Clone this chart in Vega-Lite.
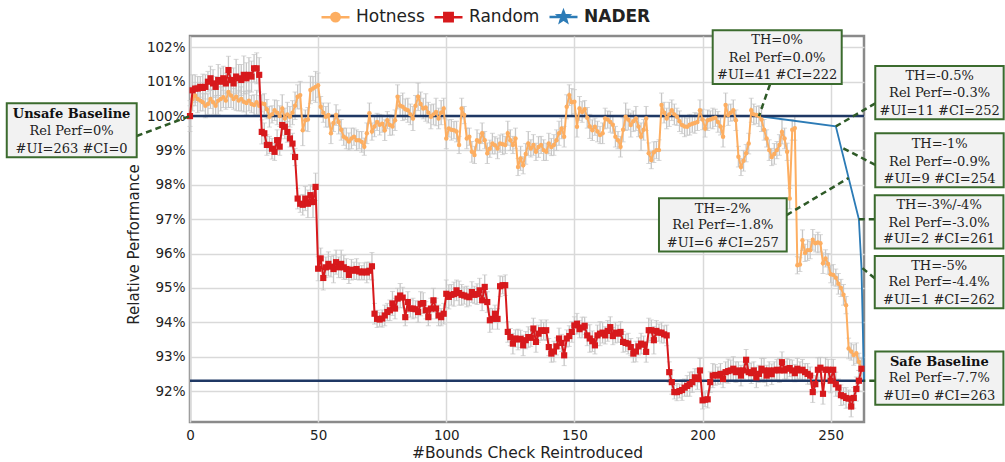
{
"$schema":"https://vega.github.io/schema/vega-lite/v6.json",
"width":674,"height":386,
"autosize":{"type":"none"},
"padding":{"left":190,"top":36,"right":141,"bottom":40},
"background":"white",
"config":{
 "view":{"stroke":"#8a8a8a","strokeWidth":2.5},
 "axis":{"labelFont":"DejaVu Sans","titleFont":"DejaVu Sans","labelFontSize":13.5,"labelColor":"#222","titleColor":"#222","titleFontWeight":"normal","domain":false,"ticks":false,"gridColor":"#d9d9d9","gridWidth":1.5}
},
"datasets":{
"series":[
{"x":0,"h":100,"a":0.45,"r":100,"b":0.3},
{"x":1,"h":100.5,"a":0.35,"r":100.75,"b":0.45},
{"x":2,"h":100.6,"a":0.3,"r":100.8,"b":0.4},
{"x":3,"h":100.5,"a":0.4,"r":100.8,"b":0.35},
{"x":4,"h":100.45,"a":0.3,"r":100.85,"b":0.3},
{"x":5,"h":100.4,"a":0.25,"r":100.82,"b":0.4},
{"x":6,"h":100.3,"a":0.35,"r":100.85,"b":0.35},
{"x":7,"h":100.35,"a":0.3,"r":101,"b":0.3},
{"x":8,"h":100.5,"a":0.28,"r":101.1,"b":0.35},
{"x":9,"h":100.4,"a":0.35,"r":100.95,"b":0.4},
{"x":10,"h":100.3,"a":0.3,"r":100.85,"b":0.3},
{"x":11,"h":100.45,"a":0.4,"r":101.05,"b":0.45},
{"x":12,"h":100.5,"a":0.35,"r":101,"b":0.4},
{"x":13,"h":100.55,"a":0.3,"r":101.1,"b":0.35},
{"x":14,"h":100.45,"a":0.25,"r":100.95,"b":0.3},
{"x":15,"h":100.7,"a":0.45,"r":101.34,"b":0.4},
{"x":16,"h":100.6,"a":0.35,"r":101.05,"b":0.35},
{"x":17,"h":100.5,"a":0.3,"r":100.95,"b":0.45},
{"x":18,"h":100.56,"a":0.4,"r":101.15,"b":0.5},
{"x":19,"h":100.45,"a":0.3,"r":101.1,"b":0.4},
{"x":20,"h":100.5,"a":0.35,"r":101.05,"b":0.45},
{"x":21,"h":100.42,"a":0.3,"r":101.2,"b":0.55},
{"x":22,"h":100.38,"a":0.35,"r":101.1,"b":0.45},
{"x":23,"h":100.45,"a":0.3,"r":101.2,"b":0.5},
{"x":24,"h":100.35,"a":0.25,"r":101.15,"b":0.45},
{"x":25,"h":100.32,"a":0.3,"r":101.39,"b":0.4},
{"x":26,"h":100.4,"a":0.35,"r":101.39,"b":0.45},
{"x":27,"h":100.3,"a":0.3,"r":101.2,"b":0.5},
{"x":28,"h":100.37,"a":0.25,"r":99.54,"b":0.35},
{"x":29,"h":100.35,"a":0.3,"r":99.5,"b":0.3},
{"x":30,"h":100.2,"a":0.28,"r":99.16,"b":0.3},
{"x":31,"h":99.98,"a":0.3,"r":99.16,"b":0.25},
{"x":32,"h":100.05,"a":0.25,"r":99.05,"b":0.3},
{"x":33,"h":100.17,"a":0.3,"r":98.96,"b":0.25},
{"x":34,"h":100.1,"a":0.35,"r":99.3,"b":0.3},
{"x":35,"h":100,"a":0.3,"r":99.11,"b":0.25},
{"x":36,"h":100.22,"a":0.4,"r":99.74,"b":0.3},
{"x":37,"h":99.93,"a":0.3,"r":99.69,"b":0.35},
{"x":38,"h":100.05,"a":0.35,"r":99.54,"b":0.3},
{"x":39,"h":99.98,"a":0.3,"r":99.35,"b":0.25},
{"x":40,"h":100.1,"a":0.35,"r":99.2,"b":0.3},
{"x":41,"h":100.3,"a":0.4,"r":98.81,"b":0.25},
{"x":42,"h":100.56,"a":0.35,"r":97.6,"b":0.3},
{"x":43,"h":100.61,"a":0.4,"r":97.45,"b":0.25},
{"x":44,"h":99.59,"a":0.45,"r":97.42,"b":0.3},
{"x":45,"h":99.88,"a":0.3,"r":97.6,"b":0.35},
{"x":46,"h":99.9,"a":0.35,"r":97.45,"b":0.4},
{"x":47,"h":100.76,"a":0.4,"r":97.7,"b":0.3},
{"x":48,"h":100.8,"a":0.35,"r":97.5,"b":0.45},
{"x":49,"h":100.85,"a":0.45,"r":97.94,"b":0.4},
{"x":50,"h":100.9,"a":0.35,"r":95.56,"b":0.35},
{"x":51,"h":100.27,"a":0.3,"r":95.86,"b":0.3},
{"x":52,"h":100.1,"a":0.28,"r":95.29,"b":0.35},
{"x":53,"h":99.98,"a":0.3,"r":95.6,"b":0.3},
{"x":54,"h":100.03,"a":0.35,"r":95.7,"b":0.35},
{"x":55,"h":99.5,"a":0.3,"r":95.62,"b":0.3},
{"x":56,"h":99.8,"a":0.25,"r":95.55,"b":0.4},
{"x":57,"h":100.03,"a":0.3,"r":95.75,"b":0.35},
{"x":58,"h":99.83,"a":0.35,"r":95.6,"b":0.3},
{"x":59,"h":99.6,"a":0.3,"r":95.7,"b":0.4},
{"x":60,"h":99.4,"a":0.25,"r":95.6,"b":0.35},
{"x":61,"h":99.35,"a":0.3,"r":95.55,"b":0.3},
{"x":62,"h":99.26,"a":0.25,"r":95.38,"b":0.25},
{"x":63,"h":99.35,"a":0.3,"r":95.53,"b":0.3},
{"x":64,"h":99.4,"a":0.25,"r":95.5,"b":0.25},
{"x":65,"h":99.3,"a":0.3,"r":95.55,"b":0.3},
{"x":66,"h":99.3,"a":0.25,"r":95.48,"b":0.25},
{"x":67,"h":99.25,"a":0.3,"r":95.45,"b":0.2},
{"x":68,"h":99.11,"a":0.25,"r":95.48,"b":0.25},
{"x":69,"h":99.5,"a":0.3,"r":95.45,"b":0.3},
{"x":70,"h":100.08,"a":0.3,"r":95.5,"b":0.25},
{"x":71,"h":99.55,"a":0.25,"r":95.63,"b":0.4},
{"x":72,"h":99.7,"a":0.3,"r":94.25,"b":0.3},
{"x":73,"h":99.83,"a":0.25,"r":94.1,"b":0.25},
{"x":74,"h":99.75,"a":0.3,"r":94.08,"b":0.2},
{"x":75,"h":99.78,"a":0.25,"r":94.11,"b":0.25},
{"x":76,"h":99.59,"a":0.3,"r":94.2,"b":0.3},
{"x":77,"h":99.88,"a":0.25,"r":94.3,"b":0.25},
{"x":78,"h":99.74,"a":0.3,"r":94.35,"b":0.3},
{"x":79,"h":99.7,"a":0.25,"r":94.55,"b":0.35},
{"x":80,"h":99.88,"a":0.3,"r":94.4,"b":0.3},
{"x":81,"h":100.56,"a":0.35,"r":94.69,"b":0.3},
{"x":82,"h":100.3,"a":0.3,"r":94.78,"b":0.35},
{"x":83,"h":100.27,"a":0.4,"r":94.72,"b":0.3},
{"x":84,"h":100.2,"a":0.3,"r":94.15,"b":0.25},
{"x":85,"h":100.17,"a":0.35,"r":94.59,"b":0.3},
{"x":86,"h":100.05,"a":0.3,"r":94.4,"b":0.25},
{"x":87,"h":99.93,"a":0.35,"r":94.4,"b":0.3},
{"x":88,"h":100.3,"a":0.3,"r":94.38,"b":0.25},
{"x":89,"h":100.56,"a":0.4,"r":94.3,"b":0.3},
{"x":90,"h":100.35,"a":0.35,"r":94.54,"b":0.35},
{"x":91,"h":100.22,"a":0.3,"r":94.56,"b":0.3},
{"x":92,"h":100.25,"a":0.4,"r":94.35,"b":0.25},
{"x":93,"h":100.1,"a":0.3,"r":94.15,"b":0.25},
{"x":94,"h":99.98,"a":0.35,"r":94.4,"b":0.3},
{"x":95,"h":100.05,"a":0.3,"r":94.64,"b":0.35},
{"x":96,"h":100.12,"a":0.4,"r":94.4,"b":0.3},
{"x":97,"h":99.93,"a":0.3,"r":94.2,"b":0.3},
{"x":98,"h":100.1,"a":0.35,"r":94.15,"b":0.25},
{"x":99,"h":100.22,"a":0.3,"r":94.25,"b":0.3},
{"x":100,"h":99.35,"a":0.3,"r":94.83,"b":0.4},
{"x":101,"h":99.64,"a":0.25,"r":94.74,"b":0.35},
{"x":102,"h":99.6,"a":0.3,"r":94.8,"b":0.3},
{"x":103,"h":99.59,"a":0.25,"r":94.82,"b":0.35},
{"x":104,"h":99.55,"a":0.3,"r":94.93,"b":0.3},
{"x":105,"h":99.16,"a":0.25,"r":94.85,"b":0.35},
{"x":106,"h":100.22,"a":0.3,"r":94.8,"b":0.3},
{"x":107,"h":100.03,"a":0.25,"r":94.78,"b":0.25},
{"x":108,"h":99.35,"a":0.3,"r":94.75,"b":0.3},
{"x":109,"h":99.4,"a":0.25,"r":94.73,"b":0.25},
{"x":110,"h":98.96,"a":0.3,"r":94.88,"b":0.3},
{"x":111,"h":98.87,"a":0.25,"r":94.8,"b":0.25},
{"x":112,"h":99.3,"a":0.3,"r":94.82,"b":0.3},
{"x":113,"h":99.25,"a":0.25,"r":94.93,"b":0.35},
{"x":114,"h":99.5,"a":0.3,"r":94.64,"b":0.3},
{"x":115,"h":99.3,"a":0.25,"r":95.03,"b":0.35},
{"x":116,"h":98.92,"a":0.3,"r":94.59,"b":0.3},
{"x":117,"h":99.05,"a":0.25,"r":94.06,"b":0.35},
{"x":118,"h":99.2,"a":0.3,"r":94.1,"b":0.3},
{"x":119,"h":99.15,"a":0.25,"r":94.25,"b":0.25},
{"x":120,"h":99.06,"a":0.3,"r":94.1,"b":0.3},
{"x":121,"h":99.2,"a":0.25,"r":95.05,"b":0.3},
{"x":122,"h":99.18,"a":0.3,"r":95.08,"b":0.25},
{"x":123,"h":99.16,"a":0.25,"r":95.08,"b":0.3},
{"x":124,"h":99.5,"a":0.35,"r":93.72,"b":0.3},
{"x":125,"h":99.3,"a":0.3,"r":93.57,"b":0.25},
{"x":126,"h":99.16,"a":0.25,"r":93.38,"b":0.3},
{"x":127,"h":99.35,"a":0.3,"r":93.53,"b":0.25},
{"x":128,"h":98.52,"a":0.25,"r":93.5,"b":0.3},
{"x":129,"h":98.77,"a":0.35,"r":93.52,"b":0.25},
{"x":130,"h":98.57,"a":0.25,"r":93.33,"b":0.3},
{"x":131,"h":98.9,"a":0.3,"r":93.48,"b":0.25},
{"x":132,"h":99.2,"a":0.35,"r":93.57,"b":0.3},
{"x":133,"h":99.06,"a":0.25,"r":93.55,"b":0.25},
{"x":134,"h":99.16,"a":0.3,"r":93.82,"b":0.3},
{"x":135,"h":98.96,"a":0.25,"r":93.43,"b":0.3},
{"x":136,"h":99.1,"a":0.3,"r":93.67,"b":0.25},
{"x":137,"h":99.16,"a":0.25,"r":93.77,"b":0.3},
{"x":138,"h":99.01,"a":0.3,"r":93.75,"b":0.25},
{"x":139,"h":98.96,"a":0.25,"r":93.77,"b":0.3},
{"x":140,"h":99.2,"a":0.3,"r":93.28,"b":0.25},
{"x":141,"h":99.1,"a":0.25,"r":93.09,"b":0.25},
{"x":142,"h":99.16,"a":0.3,"r":93.15,"b":0.3},
{"x":143,"h":99.3,"a":0.3,"r":93.3,"b":0.25},
{"x":144,"h":99.5,"a":0.35,"r":93.53,"b":0.3},
{"x":145,"h":99.64,"a":0.3,"r":93.4,"b":0.25},
{"x":146,"h":99.4,"a":0.3,"r":93.04,"b":0.3},
{"x":147,"h":100.27,"a":0.35,"r":93.53,"b":0.25},
{"x":148,"h":100.61,"a":0.3,"r":93.6,"b":0.3},
{"x":149,"h":100.4,"a":0.4,"r":93.72,"b":0.3},
{"x":150,"h":100.42,"a":0.35,"r":93.91,"b":0.25},
{"x":151,"h":99.69,"a":0.3,"r":93.96,"b":0.3},
{"x":152,"h":100.22,"a":0.35,"r":93.8,"b":0.25},
{"x":153,"h":100.12,"a":0.3,"r":93.85,"b":0.3},
{"x":154,"h":100.2,"a":0.25,"r":93.9,"b":0.25},
{"x":155,"h":99.95,"a":0.3,"r":93.62,"b":0.3},
{"x":156,"h":99.7,"a":0.35,"r":93.53,"b":0.4},
{"x":157,"h":99.59,"a":0.3,"r":93.45,"b":0.3},
{"x":158,"h":99.69,"a":0.25,"r":93.33,"b":0.25},
{"x":159,"h":99.55,"a":0.3,"r":93.62,"b":0.3},
{"x":160,"h":99.45,"a":0.25,"r":93.67,"b":0.35},
{"x":161,"h":99.5,"a":0.3,"r":93.7,"b":0.3},
{"x":162,"h":99.93,"a":0.3,"r":93.62,"b":0.25},
{"x":163,"h":99.9,"a":0.25,"r":93.75,"b":0.3},
{"x":164,"h":99.83,"a":0.3,"r":93.86,"b":0.3},
{"x":165,"h":99.75,"a":0.25,"r":93.6,"b":0.25},
{"x":166,"h":99.4,"a":0.3,"r":93.7,"b":0.3},
{"x":167,"h":99.3,"a":0.25,"r":93.67,"b":0.25},
{"x":168,"h":99.11,"a":0.3,"r":93.72,"b":0.3},
{"x":169,"h":99.6,"a":0.35,"r":93.43,"b":0.3},
{"x":170,"h":99.98,"a":0.4,"r":93.4,"b":0.25},
{"x":171,"h":99.9,"a":0.3,"r":93.38,"b":0.3},
{"x":172,"h":99.74,"a":0.35,"r":93.28,"b":0.25},
{"x":173,"h":99.85,"a":0.3,"r":93.09,"b":0.25},
{"x":174,"h":99.93,"a":0.35,"r":93.15,"b":0.3},
{"x":175,"h":99.7,"a":0.3,"r":93.3,"b":0.25},
{"x":176,"h":99.4,"a":0.4,"r":93.38,"b":0.3},
{"x":177,"h":99.6,"a":0.3,"r":93.35,"b":0.25},
{"x":178,"h":99.93,"a":0.35,"r":93.14,"b":0.3},
{"x":179,"h":98.92,"a":0.3,"r":93.77,"b":0.35},
{"x":180,"h":98.72,"a":0.25,"r":93.77,"b":0.3},
{"x":181,"h":98.95,"a":0.3,"r":93.48,"b":0.4},
{"x":182,"h":99.01,"a":0.25,"r":93.75,"b":0.3},
{"x":183,"h":99.01,"a":0.3,"r":93.7,"b":0.25},
{"x":184,"h":100.32,"a":0.35,"r":93.7,"b":0.3},
{"x":185,"h":100.1,"a":0.3,"r":93.65,"b":0.25},
{"x":186,"h":99.93,"a":0.3,"r":93.62,"b":0.3},
{"x":187,"h":100.05,"a":0.35,"r":92.55,"b":0.3},
{"x":188,"h":100.17,"a":0.3,"r":92.26,"b":0.35},
{"x":189,"h":100.05,"a":0.3,"r":91.97,"b":0.2},
{"x":190,"h":99.98,"a":0.25,"r":91.97,"b":0.25},
{"x":191,"h":99.85,"a":0.3,"r":92,"b":0.2},
{"x":192,"h":99.74,"a":0.25,"r":92.03,"b":0.3},
{"x":193,"h":99.7,"a":0.3,"r":92.1,"b":0.25},
{"x":194,"h":99.69,"a":0.25,"r":92.15,"b":0.3},
{"x":195,"h":99.75,"a":0.3,"r":92.2,"b":0.35},
{"x":196,"h":99.78,"a":0.25,"r":92.26,"b":0.3},
{"x":197,"h":99.8,"a":0.3,"r":92.4,"b":0.25},
{"x":198,"h":99.83,"a":0.25,"r":92.35,"b":0.3},
{"x":199,"h":100.17,"a":0.3,"r":92.6,"b":0.35},
{"x":200,"h":99.9,"a":0.3,"r":91.73,"b":0.25},
{"x":201,"h":99.64,"a":0.25,"r":91.75,"b":0.2},
{"x":202,"h":99.88,"a":0.3,"r":91.76,"b":0.25},
{"x":203,"h":99.9,"a":0.25,"r":92.26,"b":0.3},
{"x":204,"h":99.93,"a":0.3,"r":92.45,"b":0.35},
{"x":205,"h":99.95,"a":0.25,"r":92.47,"b":0.3},
{"x":206,"h":99.83,"a":0.3,"r":92.45,"b":0.25},
{"x":207,"h":99.7,"a":0.25,"r":92.5,"b":0.3},
{"x":208,"h":99.4,"a":0.3,"r":92.35,"b":0.25},
{"x":209,"h":100.32,"a":0.35,"r":92.55,"b":0.3},
{"x":210,"h":100.03,"a":0.3,"r":92.58,"b":0.35},
{"x":211,"h":100.1,"a":0.25,"r":92.6,"b":0.3},
{"x":212,"h":100.17,"a":0.3,"r":92.65,"b":0.35},
{"x":213,"h":99.88,"a":0.3,"r":92.55,"b":0.3},
{"x":214,"h":98.82,"a":0.3,"r":92.6,"b":0.25},
{"x":215,"h":98.52,"a":0.25,"r":92.45,"b":0.3},
{"x":216,"h":98.7,"a":0.3,"r":92.6,"b":0.25},
{"x":217,"h":98.92,"a":0.25,"r":92.91,"b":0.3},
{"x":218,"h":99.2,"a":0.3,"r":92.55,"b":0.25},
{"x":219,"h":100.17,"a":0.35,"r":92.52,"b":0.3},
{"x":220,"h":100.05,"a":0.3,"r":92.6,"b":0.25},
{"x":221,"h":100.03,"a":0.25,"r":92.4,"b":0.3},
{"x":222,"h":100,"a":0.3,"r":92.5,"b":0.25},
{"x":223,"h":99.9,"a":0.35,"r":92.65,"b":0.3},
{"x":224,"h":99.6,"a":0.3,"r":92.6,"b":0.35},
{"x":225,"h":99.35,"a":0.25,"r":92.45,"b":0.3},
{"x":226,"h":99.01,"a":0.3,"r":92.6,"b":0.25},
{"x":227,"h":98.81,"a":0.25,"r":92.49,"b":0.3},
{"x":228,"h":98.9,"a":0.3,"r":92.6,"b":0.25},
{"x":229,"h":99.01,"a":0.25,"r":92.62,"b":0.3},
{"x":230,"h":99.16,"a":0.3,"r":92.6,"b":0.35},
{"x":231,"h":99.54,"a":0.35,"r":92.84,"b":0.3},
{"x":232,"h":99.35,"a":0.3,"r":92.6,"b":0.25},
{"x":233,"h":98.96,"a":0.25,"r":92.65,"b":0.3},
{"x":234,"h":97.6,"a":0.3,"r":92.67,"b":0.25},
{"x":235,"h":99.6,"a":0.3,"r":92.6,"b":0.3},
{"x":236,"h":99.65,"a":0.35,"r":92.52,"b":0.25},
{"x":237,"h":95.66,"a":0.25,"r":92.65,"b":0.3},
{"x":238,"h":95.68,"a":0.2,"r":92.6,"b":0.25},
{"x":239,"h":96.39,"a":0.3,"r":92.62,"b":0.3},
{"x":240,"h":96.02,"a":0.25,"r":92.55,"b":0.25},
{"x":241,"h":96.1,"a":0.3,"r":92.5,"b":0.3},
{"x":242,"h":96.1,"a":0.25,"r":92.45,"b":0.25},
{"x":243,"h":96.4,"a":0.3,"r":91.97,"b":0.3},
{"x":244,"h":96.3,"a":0.25,"r":92.2,"b":0.25},
{"x":245,"h":96.32,"a":0.3,"r":92.62,"b":0.35},
{"x":246,"h":96.3,"a":0.25,"r":92.68,"b":0.3},
{"x":247,"h":95.72,"a":0.3,"r":91.92,"b":0.3},
{"x":248,"h":95.86,"a":0.25,"r":92.62,"b":0.35},
{"x":249,"h":95.7,"a":0.3,"r":92.62,"b":0.3},
{"x":250,"h":95.4,"a":0.25,"r":92.3,"b":0.35},
{"x":251,"h":95.38,"a":0.3,"r":92.62,"b":0.3},
{"x":252,"h":95.3,"a":0.25,"r":92.2,"b":0.35},
{"x":253,"h":95.12,"a":0.3,"r":92.1,"b":0.25},
{"x":254,"h":95,"a":0.25,"r":91.88,"b":0.3},
{"x":255,"h":94.8,"a":0.3,"r":91.85,"b":0.25},
{"x":256,"h":94.5,"a":0.25,"r":91.8,"b":0.3},
{"x":257,"h":93.24,"a":0.3,"r":91.78,"b":0.25},
{"x":258,"h":93.15,"a":0.25,"r":91.55,"b":0.3},
{"x":259,"h":93.05,"a":0.3,"r":91.8,"b":0.3},
{"x":260,"h":93.1,"a":0.3,"r":92.06,"b":0.35},
{"x":261,"h":92.85,"a":0.25,"r":92.3,"b":0.3},
{"x":262,"h":92.66,"a":0.3,"r":92.65,"b":0.3}
],
"nader":[
{"x":0,"y":100},{"x":222,"y":100},{"x":252,"y":99.7},{"x":254,"y":99.1},{"x":257,"y":98.2},{"x":261,"y":97.0},{"x":262,"y":95.6},{"x":263,"y":92.3}
],
"baselines":[{"v":100},{"v":92.3}],
"leaders":[
{"x":-20.8,"y":99.42,"x2":0,"y2":100},
{"x":226.3,"y":100.92,"x2":222,"y2":100},
{"x":267.4,"y":100.37,"x2":252,"y2":99.7},
{"x":267.4,"y":98.58,"x2":254,"y2":99.1},
{"x":232.8,"y":97.12,"x2":257,"y2":98.2},
{"x":267.2,"y":97.0,"x2":261,"y2":97.0},
{"x":267.2,"y":95.28,"x2":262,"y2":95.6},
{"x":267.4,"y":92.3,"x2":263,"y2":92.3}
],
"boxes":[
{"x":-71.5,"x2":-20.8,"y":100.37,"y2":98.8},
{"x":203.96,"x2":254.3,"y":102.5,"y2":100.93},
{"x":267.4,"x2":317.5,"y":101.46,"y2":99.91},
{"x":267.4,"x2":317.5,"y":99.5,"y2":97.93},
{"x":183.0,"x2":232.84,"y":97.61,"y2":96.06},
{"x":267.2,"x2":317.4,"y":97.7,"y2":96.15},
{"x":267.2,"x2":317.4,"y":95.93,"y2":94.41},
{"x":267.4,"x2":317.4,"y":93.15,"y2":91.6}
],
"boxtitles":[
{"x":-46.2,"y":100.06,"t":"Unsafe Baseline"},
{"x":292.4,"y":92.86,"t":"Safe Baseline"}
],
"boxtext":[
{"x":-46.2,"y":99.57,"t":"Rel Perf=0%"},
{"x":-46.2,"y":99.05,"t":"#UI=263 #CI=0"},
{"x":229.1,"y":102.2,"t":"TH=0%"},
{"x":229.1,"y":101.7,"t":"Rel Perf=0.0%"},
{"x":229.1,"y":101.2,"t":"#UI=41 #CI=222"},
{"x":292.5,"y":101.17,"t":"TH=-0.5%"},
{"x":292.5,"y":100.66,"t":"Rel Perf=-0.3%"},
{"x":292.5,"y":100.16,"t":"#UI=11 #CI=252"},
{"x":292.5,"y":99.19,"t":"TH=-1%"},
{"x":292.5,"y":98.67,"t":"Rel Perf=-0.9%"},
{"x":292.5,"y":98.17,"t":"#UI=9 #CI=254"},
{"x":207.9,"y":97.31,"t":"TH=-2%"},
{"x":207.9,"y":96.82,"t":"Rel Perf=-1.8%"},
{"x":207.9,"y":96.31,"t":"#UI=6 #CI=257"},
{"x":292.3,"y":97.4,"t":"TH=-3%/-4%"},
{"x":292.3,"y":96.9,"t":"Rel Perf=-3.0%"},
{"x":292.3,"y":96.41,"t":"#UI=2 #CI=261"},
{"x":292.3,"y":95.64,"t":"TH=-5%"},
{"x":292.3,"y":95.17,"t":"Rel Perf=-4.4%"},
{"x":292.3,"y":94.66,"t":"#UI=1 #CI=262"},
{"x":292.4,"y":92.37,"t":"Rel Perf=-7.7%"},
{"x":292.4,"y":91.86,"t":"#UI=0 #CI=263"}
]
},
"layer":[
{"data":{"name":"series"},
 "mark":{"type":"errorbar","ticks":{"size":5,"color":"#c6c6c6","strokeWidth":1.2},"rule":{"color":"#c6c6c6","strokeWidth":1.3}},
 "encoding":{
  "x":{"field":"x","type":"quantitative","scale":{"domain":[0,263],"nice":false,"zero":false},"title":"#Bounds Check Reintroduced",
       "axis":{"values":[0,50,100,150,200,250],"titleFontSize":15.5,"labelFlush":false,"labelPadding":6,"titlePadding":4,"grid":true}},
  "y":{"field":"h","type":"quantitative","scale":{"domain":[91.1,102.33],"nice":false,"zero":false},"title":"Relative Performance",
       "axis":{"values":[92,93,94,95,96,97,98,99,100,101,102],"tickCount":12,"labelOverlap":false,"labelExpr":"datum.value + '%'","titleFontSize":15,"labelPadding":5,"titlePadding":5,"titleY":208,"grid":true}},
  "yError":{"field":"a"}}},
{"data":{"name":"series"},
 "mark":{"type":"errorbar","ticks":{"size":5,"color":"#c6c6c6","strokeWidth":1.2},"rule":{"color":"#c6c6c6","strokeWidth":1.3}},
 "encoding":{
  "x":{"field":"x","type":"quantitative","title":"#Bounds Check Reintroduced"},
  "y":{"field":"r","type":"quantitative","title":"Relative Performance"},
  "yError":{"field":"b"}}},
{"data":{"name":"nader"},
 "mark":{"type":"line","strokeWidth":1.8},
 "encoding":{
  "x":{"field":"x","type":"quantitative","title":"#Bounds Check Reintroduced"},
  "y":{"field":"y","type":"quantitative","title":"Relative Performance"},
  "color":{"datum":"NADER","type":"nominal",
    "scale":{"domain":["Hotness","Random","NADER"],"range":["#fdae61","#d7191c","#2c7bb6"]},
    "legend":{"orient":"none","legendX":130,"legendY":-35,"direction":"horizontal","title":null,"padding":0,
      "labelFont":"DejaVu Sans","labelFontSize":17,"labelColor":"#222","symbolSize":784,"symbolStrokeWidth":2.5,"columnPadding":4,"labelOffset":5,
      "encode":{
        "symbols":{"update":{
          "shape":{"signal":"datum.value === 'Hotness' ? 'M-1,0H1M0.3,0A0.3,0.3,0,1,1,-0.3,0A0.3,0.3,0,1,1,0.3,0Z' : datum.value === 'Random' ? 'M-1,0H1M-0.3,-0.3H0.3V0.3H-0.3Z' : 'M-1,0H1M0,-0.4L0.1,-0.136L0.38,-0.124L0.16,0.052L0.235,0.324L0,0.17L-0.235,0.324L-0.16,0.052L-0.38,-0.124L-0.1,-0.136Z'"},
          "fill":{"scale":"color","field":"value"},
          "stroke":{"scale":"color","field":"value"},
          "strokeWidth":{"value":2.5},
          "opacity":{"value":1}}},
        "labels":{"update":{"fontWeight":{"signal":"datum.value === 'NADER' ? 'bold' : 'normal'"}}}}}}}},
{"data":{"name":"baselines"},
 "mark":{"type":"rule","color":"#1f3864","strokeWidth":2.5},
 "encoding":{"y":{"field":"v","type":"quantitative","title":"Relative Performance"}}},
{"data":{"name":"series"},
 "mark":{"type":"line","strokeWidth":2,"point":{"filled":true,"size":20,"opacity":1}},
 "encoding":{
  "x":{"field":"x","type":"quantitative","title":"#Bounds Check Reintroduced"},
  "y":{"field":"h","type":"quantitative","title":"Relative Performance"},
  "color":{"datum":"Hotness","type":"nominal"}}},
{"data":{"name":"series"},
 "mark":{"type":"line","strokeWidth":2,"point":{"filled":true,"shape":"square","size":38,"opacity":1}},
 "encoding":{
  "x":{"field":"x","type":"quantitative","title":"#Bounds Check Reintroduced"},
  "y":{"field":"r","type":"quantitative","title":"Relative Performance"},
  "color":{"datum":"Random","type":"nominal"}}},
{"data":{"name":"leaders"},
 "mark":{"type":"rule","color":"#2e5a27","strokeWidth":2.5,"strokeDash":[6,4]},
 "encoding":{
  "x":{"field":"x","type":"quantitative","title":"#Bounds Check Reintroduced"},
  "y":{"field":"y","type":"quantitative","title":"Relative Performance"},
  "x2":{"field":"x2"},"y2":{"field":"y2"}}},
{"data":{"name":"boxes"},
 "mark":{"type":"rect","fill":"#f2f2f2","stroke":"#3b6b2e","strokeWidth":2},
 "encoding":{
  "x":{"field":"x","type":"quantitative","title":"#Bounds Check Reintroduced"},
  "y":{"field":"y","type":"quantitative","title":"Relative Performance"},
  "x2":{"field":"x2"},"y2":{"field":"y2"}}},
{"data":{"name":"boxtext"},
 "mark":{"type":"text","font":"DejaVu Serif","fontSize":13,"color":"#222","align":"center","baseline":"middle"},
 "encoding":{
  "x":{"field":"x","type":"quantitative","title":"#Bounds Check Reintroduced"},
  "y":{"field":"y","type":"quantitative","title":"Relative Performance"},
  "text":{"field":"t"}}},
{"data":{"name":"boxtitles"},
 "mark":{"type":"text","font":"DejaVu Serif","fontSize":13,"fontWeight":"bold","color":"#111","align":"center","baseline":"middle"},
 "encoding":{
  "x":{"field":"x","type":"quantitative","title":"#Bounds Check Reintroduced"},
  "y":{"field":"y","type":"quantitative","title":"Relative Performance"},
  "text":{"field":"t"}}}
]
}
